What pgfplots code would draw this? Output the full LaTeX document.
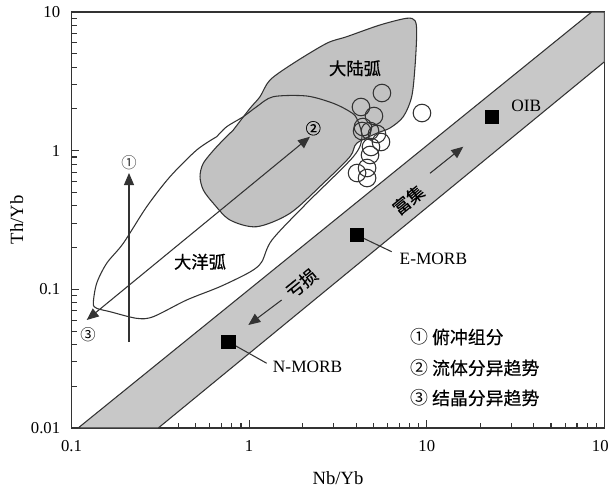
\documentclass[border=0pt]{standalone}
\usepackage{pgfplots}
\pgfplotsset{compat=1.18}
\usepackage{fontspec}
\setmainfont{Liberation Serif}
\newfontfamily\cjk{Noto Sans CJK SC}[FakeBold=0.5]
\newfontfamily\cjkn{Noto Sans CJK SC}
\usetikzlibrary{arrows.meta}
\definecolor{linegray}{HTML}{333333}
\definecolor{arcgray}{HTML}{C2C2C2}
\definecolor{bandgray}{HTML}{C8C8C8}

\begin{document}
\begin{tikzpicture}
\begin{axis}[
  xmode=log, ymode=log,
  xmin=0.1, xmax=100, ymin=0.01, ymax=10,
  scale only axis, width=399.75pt, height=312pt,
  axis line style={line width=1pt, draw=linegray},
  tick pos=left, tick align=inside,
  major tick length=6pt, minor tick length=4pt,
  every tick/.style={line width=0.8pt, draw=linegray},
  xtick={0.1,1,10,100}, xticklabels={0.1,1,10,100},
  ytick={0.01,0.1,1,10}, yticklabels={0.01,0.1,1,10},
  tick label style={font=\fontsize{12.5}{15}\selectfont},
  xticklabel style={anchor=center, yshift=-13.5pt},
  yticklabel style={anchor=east, xshift=-5pt},
  xlabel={Nb/Yb}, ylabel={Th/Yb},
  label style={font=\fontsize{14}{16}\selectfont},
  xlabel style={at={(axis description cs:0.5,-0.1202)}, anchor=center},
  ylabel style={at={(axis description cs:-0.1026,0.5)}, anchor=center},
]
\coordinate (SW) at (rel axis cs:0,0);

% MORB-OIB array
\addplot[draw=linegray, line width=0.8pt, fill=bandgray] coordinates {
  (0.109,0.01) (84.7,10) (100,10) (100,4.38) (0.308,0.01)
} -- cycle;

% continental arc field
\addplot[draw=linegray, line width=0.8pt, fill=arcgray, smooth, tension=0.5] coordinates {
  (0.814,1.409) (1.011,2.021) (1.151,2.45) (1.31,3.233) (1.772,4.266)
  (2.732,5.948) (3.54,6.636) (5.449,8.06) (7.70,9.01) (8.58,8.66)
  (8.77,7.02) (8.58,4.033) (8.22,2.45) (7.37,1.758) (6.204,1.457)
  (5.223,1.335) (4.029,1.13) (3.694,0.9047) (2.614,0.5817) (1.697,0.3534)
  (1.103,0.2829) (0.78,0.3162) (0.6284,0.4174) (0.552,0.5206) (0.529,0.649)
  (0.552,0.811) (0.6568,1.068) (0.814,1.409)
};

% oceanic arc field
\addplot[draw=linegray, line width=0.8pt, smooth, tension=0.5] coordinates {
  (0.6568,1.261) (0.7472,1.489) (0.9268,1.758) (1.103,2.076) (1.367,2.45)
  (2.107,2.479) (2.976,2.196) (3.694,1.91) (4.029,1.711) (4.315,1.255)
  (3.856,0.9047) (2.107,0.4174) (1.344,0.2269) (1.176,0.1574) (1.011,0.1334)
  (0.6852,0.1045) (0.4451,0.0838) (0.2886,0.0635) (0.2328,0.0618) (0.1647,0.069)
  (0.1386,0.073) (0.1327,0.0793) (0.1386,0.1105) (0.1578,0.1541) (0.1957,0.2148)
  (0.2651,0.3945) (0.3585,0.649) (0.5066,1.011) (0.6568,1.261)
};

% trend arrows
\addplot[linegray, line width=0.8pt, -{Triangle[length=9pt,width=7.5pt]}] coordinates {(0.2107,0.0417) (0.2107,0.690)};
\addplot[linegray, line width=0.8pt, {Triangle[length=9pt,width=7.5pt]}-{Triangle[length=9pt,width=7.5pt]}] coordinates {(0.1218,0.0601) (2.2,1.261)};
\addplot[linegray, line width=0.8pt, -{Triangle[length=9pt,width=7.5pt]}] coordinates {(10.42,0.687) (16.04,1.068)};
\addplot[linegray, line width=0.8pt, -{Triangle[length=9pt,width=7.5pt]}] coordinates {(1.524,0.0838) (0.989,0.0553)};

% leader lines
\addplot[linegray, line width=0.8pt] coordinates {(4.03,0.2465) (6.34,0.1868)};
\addplot[linegray, line width=0.8pt] coordinates {(0.763,0.0419) (1.255,0.0293)};

% samples
\addplot[only marks, mark=o, mark size=6.6pt, mark options={draw=linegray, line width=0.8pt}] table {
x y
5.59 2.605
9.39 1.869
4.26 2.065
5.04 1.778
4.37 1.481
4.32 1.386
4.79 1.386
5.24 1.319
5.52 1.155
4.85 1.063
4.79 0.931
4.61 0.750
4.05 0.690
4.61 0.635
};

% reference basalts
\addplot[only marks, mark=square*, mark size=4.9pt, mark options={fill=black, draw=black}] table {
x y
23.2 1.758
4.03 0.2465
0.763 0.0419
};

\node[font=\cjk\fontsize{13}{15}\selectfont] at (axis cs:3.94,3.93) {大陆弧};
\node[font=\cjk\fontsize{13}{15}\selectfont] at (axis cs:0.529,0.158) {大洋弧};
\node[font=\cjk\fontsize{13}{15}\selectfont, rotate=39, inner sep=0pt] at (axis cs:7.87,0.441) {富集};
\node[font=\cjk\fontsize{13}{15}\selectfont, rotate=39, inner sep=0pt] at (axis cs:1.975,0.1105) {亏损};
\node[font=\cjkn\fontsize{11.5}{13}\selectfont, text=linegray] at (axis cs:0.2107,0.815) {①};
\node[font=\cjk\fontsize{11.5}{13}\selectfont] at (axis cs:2.296,1.45) {②};
\node[font=\cjkn\fontsize{11.5}{13}\selectfont] at (axis cs:0.1238,0.0468) {③};

\node[font=\fontsize{13}{15}\selectfont, anchor=west] at (axis cs:28.1,2.1) {OIB};
\node[font=\fontsize{13}{15}\selectfont, anchor=west] at (axis cs:6.62,0.1655) {E-MORB};
\node[font=\fontsize{13}{15}\selectfont, anchor=west] at (axis cs:1.281,0.0277) {N-MORB};

\node[font=\cjk\fontsize{13.4}{15}\selectfont, anchor=west, inner sep=0pt] at (axis cs:8.04,0.0453) {{\cjkn ①} 俯冲组分};
\node[font=\cjk\fontsize{13.4}{15}\selectfont, anchor=west, inner sep=0pt] at (axis cs:8.04,0.0271) {{\cjkn ②} 流体分异趋势};
\node[font=\cjk\fontsize{13.4}{15}\selectfont, anchor=west, inner sep=0pt] at (axis cs:8.04,0.01646) {{\cjkn ③} 结晶分异趋势};
\end{axis}
\pgfresetboundingbox
\path[use as bounding box] (SW) ++(-53.625pt,-48pt) rectangle ++(456pt,369pt);
\end{tikzpicture}
\end{document}
